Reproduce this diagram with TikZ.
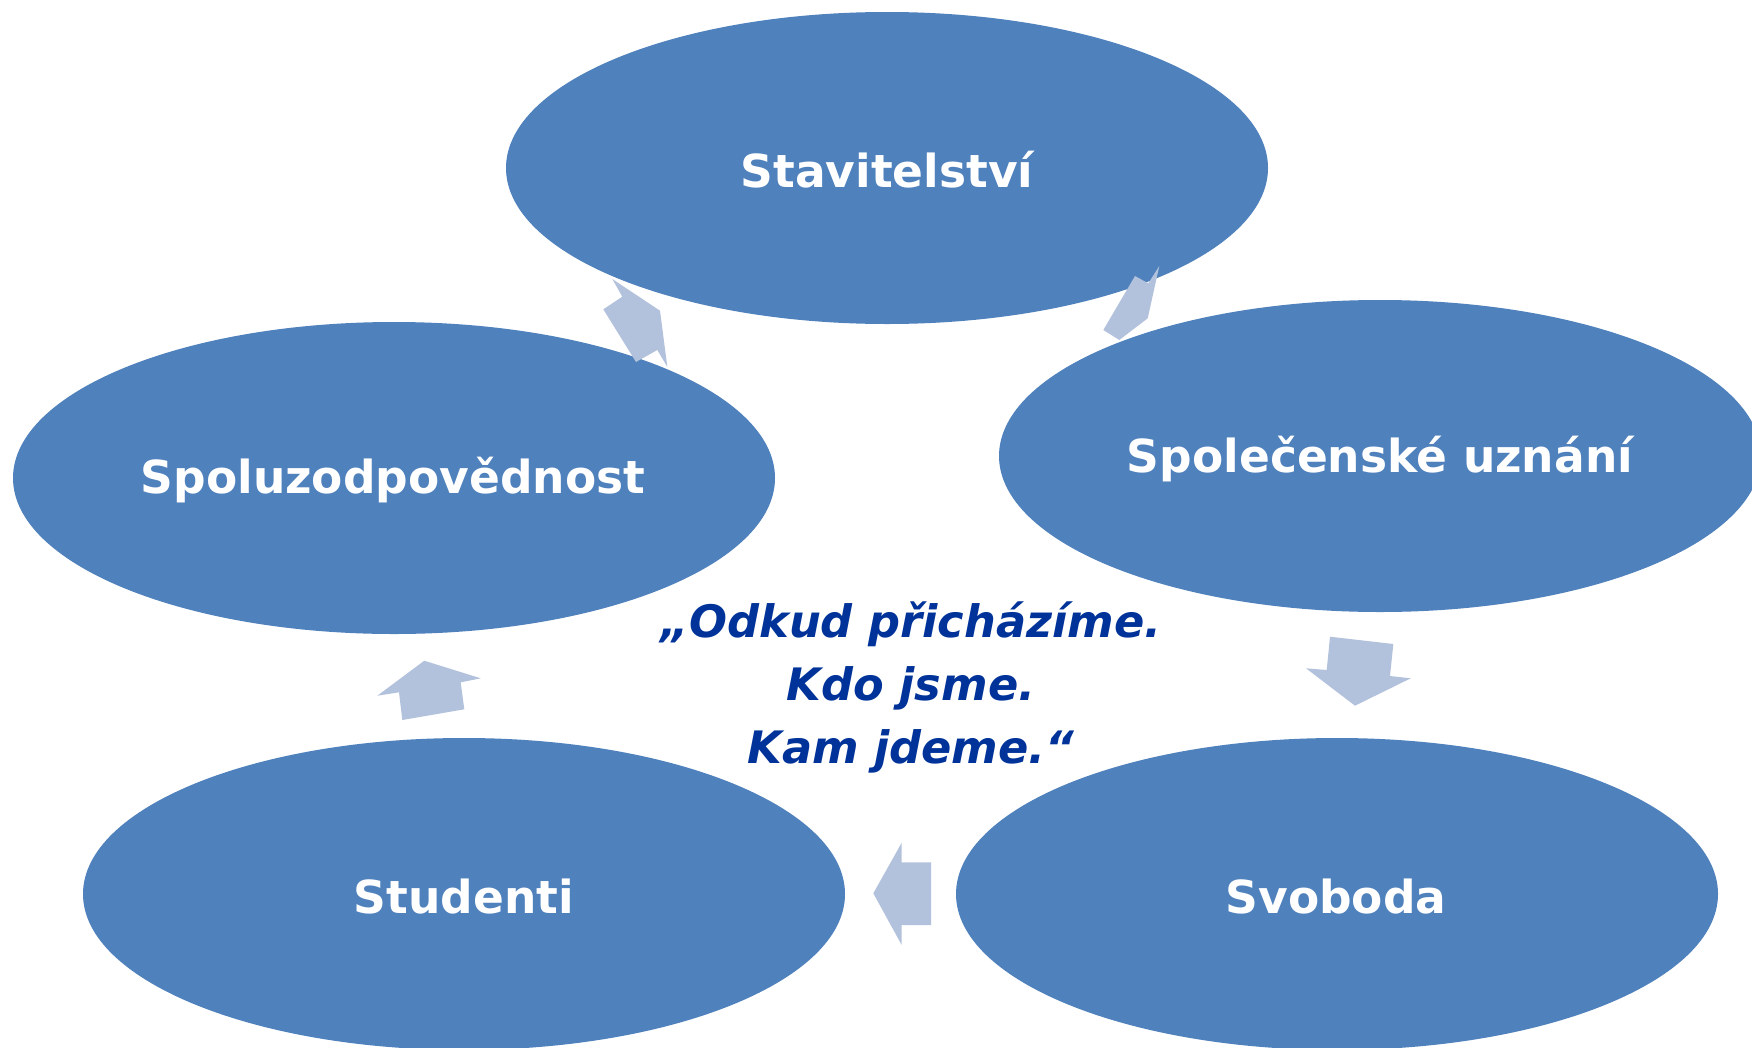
\documentclass[tikz,border=0pt]{standalone}
\usepackage{fontspec}
\setmainfont{DejaVu Sans}
\usetikzlibrary{shapes.geometric}
\definecolor{ellblue}{HTML}{4F81BD}
\definecolor{arrblue}{HTML}{B3C2DC}
\definecolor{quoteblue}{HTML}{003399}
\tikzset{
  bubble/.style={ellipse, fill=ellblue, draw=none, minimum width=762pt, minimum height=312pt, inner sep=0pt},
  bubbletext/.style={text=white, font=\bfseries\fontsize{45.5}{54}\selectfont},
  blockarrow/.style={fill=arrblue, draw=none},
  quotetext/.style={text=quoteblue, font=\bfseries\itshape\fontsize{44.7}{63}\selectfont, align=center}
}
\begin{document}
\begin{tikzpicture}[x=1pt,y=-1pt]
\useasboundingbox (0,0) rectangle (1752,1047);
\clip (0,0) rectangle (1752,1047);
\fill[white] (0,0) rectangle (1752,1047);
\node[bubble] (stav) at (887,168) {};
\node[bubble] (spol) at (1380,456) {};
\node[bubble] (spzod) at (394,478) {};
\node[bubble] (stud) at (464,894) {};
\node[bubble] (svob) at (1337,894) {};
\node[bubbletext] (tstav) at (887,170) {Stavitelství};
\node[bubbletext] (tspol) at (1380,459) {Společenské uznání};
\node[bubbletext] (tspzod) at (393,480) {Spoluzodpovědnost};
\node[bubbletext] (tstud) at (464,897) {Studenti};
\node[bubbletext] (tsvob) at (1336,897) {Svoboda};
% block arrows
\fill[blockarrow] (612.3,279) -- (622.3,296.7) -- (603.3,309.3) -- (636,362) -- (657.3,350) -- (667.3,366.7) -- (660,310.7) -- cycle;
\fill[blockarrow] (1135,276) -- (1148.3,283.3) -- (1159.3,266) -- (1147.7,318.3) -- (1119.3,340) -- (1103.3,330) -- cycle;
\fill[blockarrow] (1330,636.7) -- (1393.3,644) -- (1390,676) -- (1410.7,678.3) -- (1355,705.7) -- (1306,668.3) -- (1326.7,670) -- cycle;
\fill[blockarrow] (424.3,660.7) -- (480.7,678.3) -- (460.7,682.3) -- (464.3,709.3) -- (402.3,720) -- (399,692.3) -- (377.3,695.7) -- cycle;
\fill[blockarrow] (873.3,893.3) -- (901.7,842.7) -- (901.7,862.3) -- (931,862.3) -- (931,925) -- (901.7,925) -- (901.7,945) -- cycle;
\node[quotetext, anchor=base] (quote) at (911,763) {„Odkud přicházíme.\\Kdo jsme.\\Kam jdeme.“};
\end{tikzpicture}
\end{document}
